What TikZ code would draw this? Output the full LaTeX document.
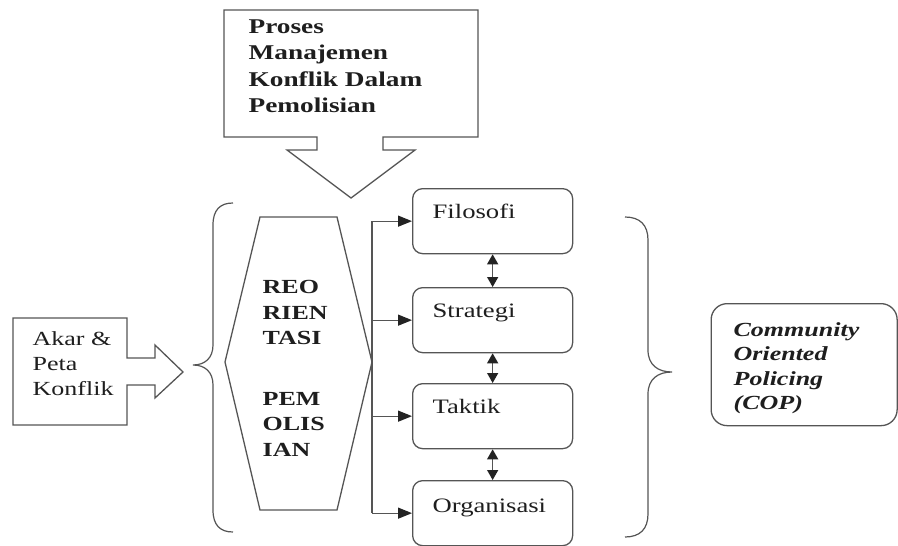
\documentclass[tikz,border=0pt]{standalone}
\usepackage{fontspec}
\setmainfont{Liberation Serif}[FakeStretch=1.3]
\usetikzlibrary{arrows.meta}
\definecolor{lg}{RGB}{85,85,85}
\definecolor{tg}{RGB}{30,30,30}
\definecolor{ag}{RGB}{35,35,35}
\begin{document}
\begin{tikzpicture}[x=1pt,y=-1pt,line width=1.3pt,
  outl/.style={draw=lg,fill=white,line join=miter},
  rbox/.style={draw=lg,fill=white,rounded corners=10pt,minimum width=160pt,minimum height=65pt,anchor=north west,inner sep=0pt},
  boxtxt/.style={anchor=base west,inner sep=0pt,text=tg,font=\fontsize{20.5}{25}\selectfont},
  arr/.style={draw=lg,-{Triangle[length=14pt,width=11pt,color=ag]}},
  darr/.style={draw=lg,{Triangle[length=10pt,width=11pt,color=ag]}-{Triangle[length=10pt,width=11pt,color=ag]}},
  brace/.style={draw=lg,line width=1.2pt}]
\fill[white] (0,0) rectangle (898,546);
\useasboundingbox (0,0) rectangle (898,546);

% top callout arrow
\draw[outl] (224,10) -- (478,10) -- (478,137) -- (383,137) -- (383,150) -- (415,150) -- (351,198) -- (287,150) -- (317,150) -- (317,137) -- (224,137) -- cycle;
\node[anchor=north west,inner sep=0pt,align=left,text=tg,font=\fontsize{21}{26.5}\selectfont\bfseries] (proses) at (248,19) {Proses\\Manajemen\\Konflik Dalam\\Pemolisian};

% left callout arrow
\draw[outl] (13,318) -- (127,318) -- (127,358) -- (155,358) -- (155,345) -- (183,372) -- (155,398) -- (155,385) -- (127,385) -- (127,425) -- (13,425) -- cycle;
\node[anchor=north west,inner sep=0pt,align=left,text=tg,font=\fontsize{20}{25}\selectfont] (akar) at (32,331) {Akar \&\\Peta\\Konflik};

% left brace
\draw[brace] (233,203) .. controls (220,203) and (213,210) .. (213,225) -- (213,345) .. controls (213,358) and (205,365) .. (193,365) .. controls (205,365) and (213,372) .. (213,385) -- (213,510) .. controls (213,525) and (220,532) .. (233,532);

% hexagon
\draw[outl] (260,217) -- (337,217) -- (372,362) -- (337,510) -- (260,510) -- (225,362) -- cycle;
\node[anchor=north west,inner sep=0pt,align=left,text=tg,font=\fontsize{20}{25.5}\selectfont\bfseries] (reo) at (262,280) {REO\\RIEN\\TASI\\[35pt]PEM\\OLIS\\IAN};

% boxes
\node[rbox] (filo) at (412,188) {};
\node[rbox] (strat) at (412,287) {};
\node[rbox] (takt) at (412,383) {};
\node[rbox] (org) at (412,480) {};
\node[boxtxt] (filoT) at (432,218) {Filosofi};
\node[boxtxt] (stratT) at (432,317) {Strategi};
\node[boxtxt] (taktT) at (432,413) {Taktik};
\node[boxtxt] (orgT) at (432,512) {Organisasi};

% bus and arrows
\coordinate (bus) at (372,0);
\draw[draw=lg] (bus |- filo.west) -- (bus |- org.west);
\draw[arr] (bus |- filo.west) -- (filo.west);
\draw[arr] (bus |- strat.west) -- (strat.west);
\draw[arr] (bus |- takt.west) -- (takt.west);
\draw[arr] (bus |- org.west) -- (org.west);
\draw[darr] (filo.south) -- (strat.north);
\draw[darr] (strat.south) -- (takt.north);
\draw[darr] (takt.south) -- (org.north);

% right brace
\draw[brace] (625,217) .. controls (640,217) and (648,225) .. (648,240) -- (648,350) .. controls (648,365) and (658,372) .. (672,372) .. controls (658,372) and (648,379) .. (648,394) -- (648,514) .. controls (648,529) and (640,537) .. (625,537);

% COP box
\node[draw=lg,fill=white,rounded corners=16pt,minimum width=186pt,minimum height=122pt,anchor=north west,inner sep=0pt] (cop) at (710.5,303) {};
\node[anchor=north west,inner sep=0pt,align=left,text=tg,font=\fontsize{20}{24.5}\selectfont\bfseries\itshape] (copT) at (733,321.5) {Community\\Oriented\\Policing\\(COP)};
\end{tikzpicture}
\end{document}
